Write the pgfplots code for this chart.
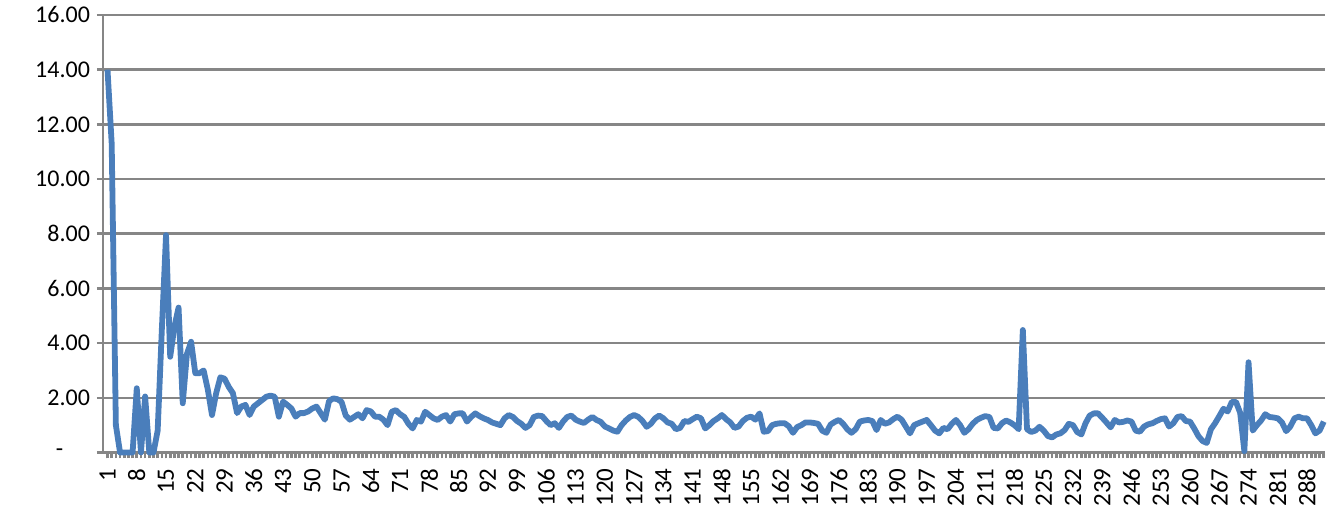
\documentclass[border=0pt]{standalone}
\usepackage{pgfplots}
\pgfplotsset{compat=1.18}
\usepackage{fontspec}
\setmainfont{Carlito}
\definecolor{excelblue}{HTML}{4A7EBB}
\definecolor{gridgray}{HTML}{868686}
\pgfplotstableread{
x y
1 14.0
2 11.3
3 1.0
4 0
5 0
6 0
7 0
8 2.35
9 0
10 2.05
11 0
12 0
13 0.8
14 4.5
15 7.95
16 3.5
17 4.6
18 5.3
19 1.8
20 3.6
21 4.05
22 2.9
23 2.9
24 3.0
25 2.3
26 1.37
27 2.17
28 2.75
29 2.7
30 2.4
31 2.17
32 1.44
33 1.68
34 1.74
35 1.37
36 1.68
37 1.8
38 1.92
39 2.04
40 2.08
41 2.04
42 1.31
43 1.86
44 1.74
45 1.61
46 1.31
47 1.44
48 1.44
49 1.5
50 1.61
51 1.68
52 1.44
53 1.2
54 1.88
55 1.98
56 1.95
57 1.85
58 1.35
59 1.2
60 1.3
61 1.4
62 1.25
63 1.55
64 1.5
65 1.31
66 1.31
67 1.2
68 1.0
69 1.49
70 1.55
71 1.4
72 1.3
73 1.05
74 0.88
75 1.19
76 1.13
77 1.49
78 1.37
79 1.25
80 1.19
81 1.31
82 1.37
83 1.13
84 1.4
85 1.43
86 1.43
87 1.13
88 1.3
89 1.43
90 1.33
91 1.25
92 1.19
93 1.1
94 1.05
95 1.0
96 1.25
97 1.37
98 1.3
99 1.15
100 1.05
101 0.9
102 1.0
103 1.3
104 1.35
105 1.33
106 1.15
107 1.0
108 1.07
109 0.9
110 1.13
111 1.3
112 1.35
113 1.2
114 1.13
115 1.08
116 1.2
117 1.3
118 1.19
119 1.12
120 0.95
121 0.88
122 0.8
123 0.76
124 1.0
125 1.17
126 1.3
127 1.37
128 1.3
129 1.15
130 0.94
131 1.05
132 1.25
133 1.35
134 1.25
135 1.1
136 1.05
137 0.85
138 0.9
139 1.15
140 1.12
141 1.22
142 1.31
143 1.25
144 0.88
145 1.0
146 1.15
147 1.25
148 1.37
149 1.22
150 1.1
151 0.9
152 0.95
153 1.15
154 1.27
155 1.31
156 1.2
157 1.43
158 0.76
159 0.78
160 1.0
161 1.05
162 1.07
163 1.07
164 0.96
165 0.72
166 0.93
167 1.0
168 1.1
169 1.1
170 1.08
171 1.05
172 0.8
173 0.72
174 1.02
175 1.12
176 1.19
177 1.05
178 0.85
179 0.72
180 0.85
181 1.13
182 1.17
183 1.19
184 1.15
185 0.82
186 1.19
187 1.05
188 1.1
189 1.22
190 1.31
191 1.2
192 0.95
193 0.7
194 1.0
195 1.07
196 1.13
197 1.19
198 1.0
199 0.8
200 0.7
201 0.9
202 0.85
203 1.05
204 1.19
205 1.0
206 0.72
207 0.85
208 1.05
209 1.19
210 1.27
211 1.33
212 1.3
213 0.9
214 0.88
215 1.07
216 1.17
217 1.1
218 1.0
219 0.85
220 4.48
221 0.85
222 0.75
223 0.8
224 0.94
225 0.8
226 0.6
227 0.55
228 0.66
229 0.7
230 0.82
231 1.05
232 1.0
233 0.75
234 0.66
235 1.07
236 1.35
237 1.43
238 1.43
239 1.27
240 1.1
241 0.92
242 1.19
243 1.1
244 1.12
245 1.17
246 1.13
247 0.8
248 0.76
249 0.95
250 1.03
251 1.07
252 1.15
253 1.22
254 1.25
255 0.95
256 1.07
257 1.3
258 1.33
259 1.15
260 1.13
261 0.88
262 0.6
263 0.42
264 0.35
265 0.85
266 1.07
267 1.33
268 1.6
269 1.5
270 1.85
271 1.85
272 1.45
273 0.05
274 3.3
275 0.8
276 1.0
277 1.17
278 1.4
279 1.3
280 1.28
281 1.25
282 1.1
283 0.78
284 0.95
285 1.25
286 1.31
287 1.25
288 1.25
289 1.0
290 0.7
291 0.8
292 1.13
}\datatable
\begin{document}
\begin{tikzpicture}
\begin{axis}[
  name=ax,
  scale only axis,
  width=611pt, height=218.75pt,
  xmin=-0.08, xmax=292.3,
  ymin=0, ymax=16,
  clip=false,
  axis lines*=left,
  x axis line style={-, gridgray, line width=1.8pt},
  y axis line style={-, gridgray, line width=1.2pt},
  ytick={0,2,...,16},
  yticklabels={{\makebox[17pt][l]{-}},2.00,4.00,6.00,8.00,10.00,12.00,14.00,16.00},
  xtick={1,8,...,288},
  minor xtick={1,2,...,292},
  tick align=outside,
  major tick length=3pt,
  minor tick length=3pt,
  tick style={gridgray, line width=1.3pt},
  ymajorgrids,
  grid style={gridgray, line width=1.3pt},
  ticklabel style={font=\fontsize{12}{14}\selectfont, text=black},
  /pgf/number format/assume math mode=true,
  xticklabel style={rotate=90, anchor=east, font=\fontsize{12.5}{14}\selectfont, yshift=0pt, xshift=-1.5pt},
]
\addplot[excelblue, line width=2.9pt, line join=round, mark=none] table[x=x,y=y] {\datatable};
\end{axis}
\path ([xshift=-51.5pt,yshift=-28.75pt]ax.south west) rectangle ([xshift=8.5pt,yshift=7.5pt]ax.north east);
\end{tikzpicture}
\end{document}
